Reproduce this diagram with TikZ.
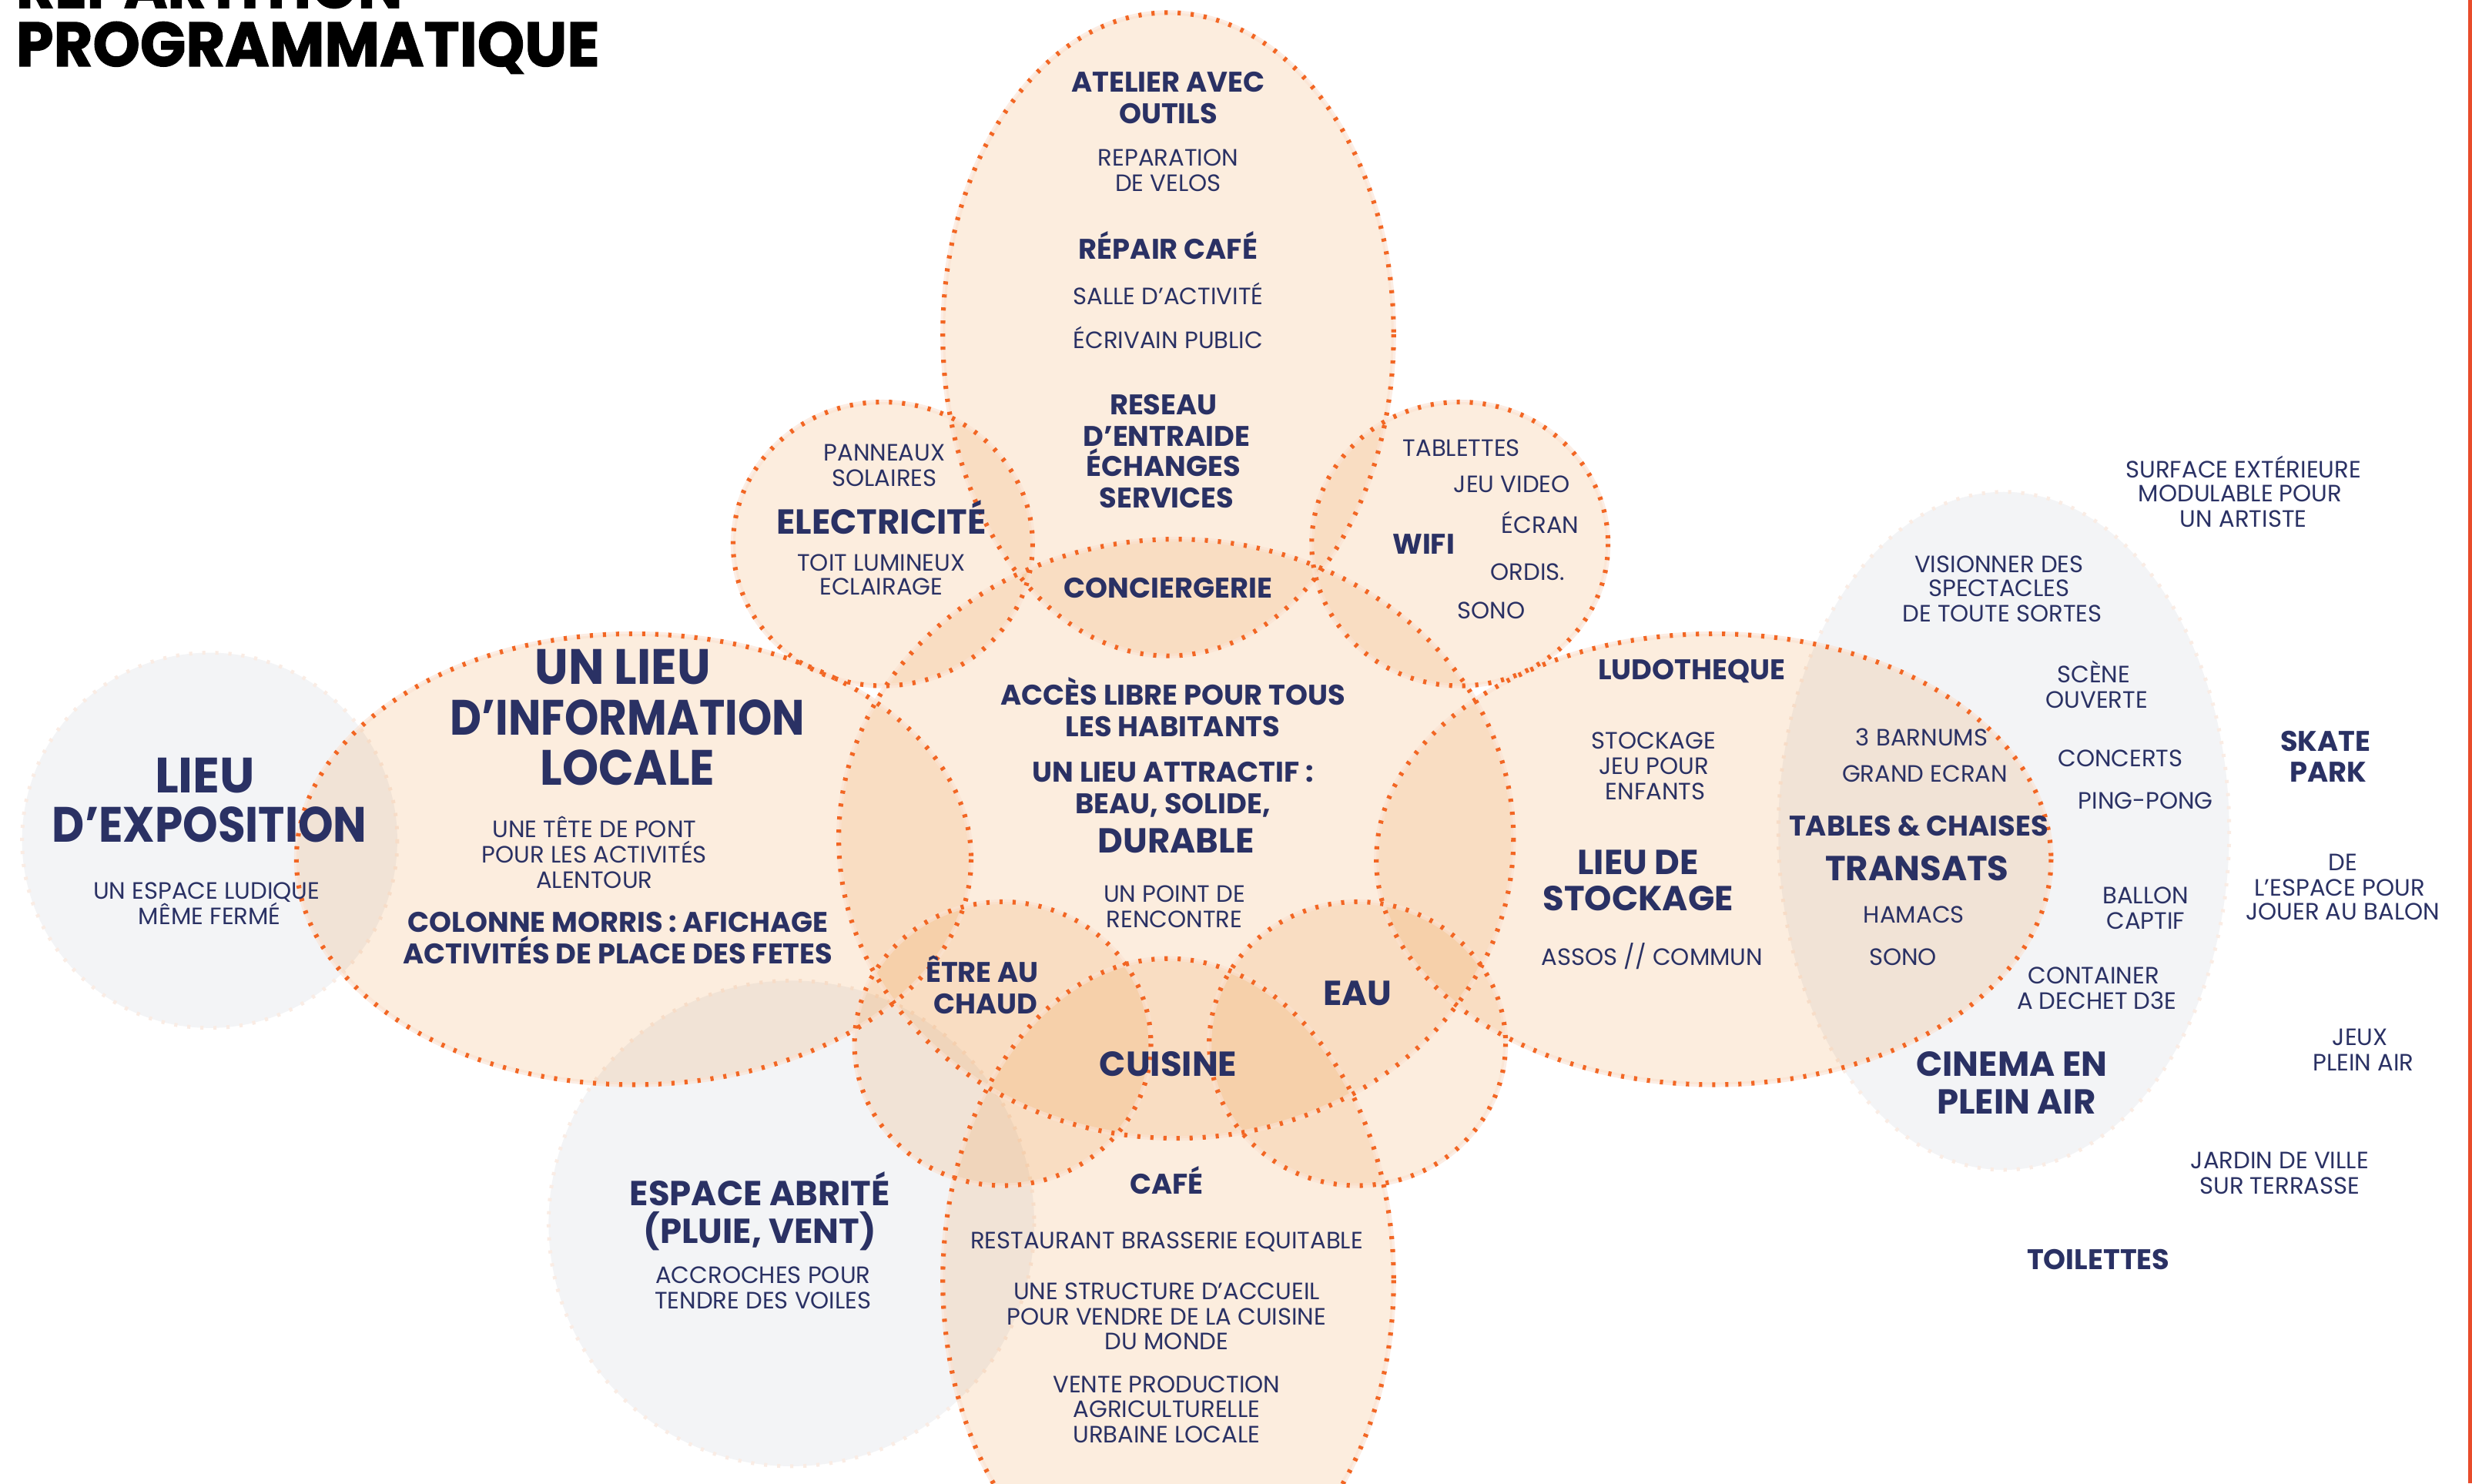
\documentclass[tikz,border=0pt]{standalone}
\usepackage{fontspec}
\setmainfont{Poppins}
\definecolor{navy}{RGB}{42,49,100}
\definecolor{dotor}{RGB}{242,102,35}
\definecolor{peachbase}{RGB}{235,135,35}
\definecolor{halo}{RGB}{251,226,210}
\definecolor{greyfill}{RGB}{243,244,246}
\definecolor{greyedge}{RGB}{250,236,228}
\definecolor{redline}{RGB}{232,76,43}
\newcommand\capbox[1]{\raisebox{0pt}[\fontcharht\font`P][0pt]{#1}}
\newcommand\T[5]{\node[#1] (#2) at (#3,#4) {#5};}
\newcommand\TC[5]{\node[bC] (#1) at (#2,#3) {\scalebox{#4}[1]{#5}};}
\tikzset{
  txt/.style={text=navy, inner sep=0pt, anchor=base},
  rg/.style={txt, font=\fontsize{15}{15}\selectfont, yshift=-5.25pt},
  bA/.style={txt, font=\bfseries\fontsize{18}{18}\selectfont, yshift=-6.25pt},
  bB/.style={txt, font=\bfseries\fontsize{22}{22}\selectfont, yshift=-7.75pt},
  bC/.style={txt, font=\bfseries\fontsize{31.5}{31.5}\selectfont, yshift=-11pt},
  peach/.style={fill=peachbase, fill opacity=0.15},
  haloline/.style={draw=halo, line width=3pt},
  dotline/.style={draw=dotor, line width=3pt, dash pattern=on 2pt off 6.3pt},
  greyline/.style={draw=greyedge, line width=2.4pt, dash pattern=on 2pt off 6.3pt},
}
\begin{document}
\begin{tikzpicture}[x=1pt,y=-1pt]
\useasboundingbox (0,0) rectangle (1568,940.8);
\clip (0,0) rectangle (1568,940.8);
\fill[white] (0,0) rectangle (1568,940.8);
% grey zones
\fill[greyfill] (133,533) circle [radius=119];
\fill[greyfill] (502,776) circle [radius=154];
\fill[greyfill] (1271,527) ellipse [x radius=143, y radius=215];
\draw[greyline] (133,533) circle [radius=119];
\draw[greyline] (502,776) circle [radius=154];
\draw[greyline] (1271,527) ellipse [x radius=143, y radius=215];
% peach zones
\foreach \cx/\cy/\rx/\ry in {741/212/143/204, 746/532/214/190, 560/345/95/90, 926/345/94/90, 402/545/214/143, 1087/545/214/143, 636/662/94/90, 861/662/94/90, 741/812/143/204}{
  \fill[peach] (\cx,\cy) ellipse [x radius=\rx, y radius=\ry];
}
\foreach \cx/\cy/\rx/\ry in {741/212/143/204, 746/532/214/190, 560/345/95/90, 926/345/94/90, 402/545/214/143, 1087/545/214/143, 636/662/94/90, 861/662/94/90, 741/812/143/204}{
  \draw[haloline, opacity=0.6] (\cx,\cy) ellipse [x radius=\rx, y radius=\ry];
}
\foreach \cx/\cy/\rx/\ry in {741/212/143/204, 746/532/214/190, 560/345/95/90, 926/345/94/90, 402/545/214/143, 1087/545/214/143, 636/662/94/90, 861/662/94/90, 741/812/143/204}{
  \draw[dotline] (\cx,\cy) ellipse [x radius=\rx, y radius=\ry];
}
% title
\node[anchor=base west, inner sep=0pt, font=\bfseries] (title1) at (10,5) {\addfontfeatures{FakeBold=1.5}\resizebox{245pt}{28pt}{\capbox{RÉPARTITION}}};
\node[anchor=base west, inner sep=0pt, font=\bfseries] (title2) at (10,42) {\addfontfeatures{FakeBold=1.5}\resizebox{370pt}{28pt}{\capbox{PROGRAMMATIQUE}}};
% top ellipse
\T{bA}{a1}{741}{52}{ATELIER AVEC}
\T{bA}{a2}{741}{72}{OUTILS}
\T{rg}{a3}{741}{100}{REPARATION}
\T{rg}{a4}{741}{116}{DE VELOS}
\T{bA}{a5}{741}{158}{RÉPAIR CAFÉ}
\T{rg}{a6}{741}{188}{SALLE D’ACTIVITÉ}
\T{rg}{a7}{741}{216}{ÉCRIVAIN PUBLIC}
\T{bA}{a8}{738}{257}{RESEAU}
\T{bA}{a9}{740}{277}{D’ENTRAIDE}
\T{bA}{a10}{738}{296}{ÉCHANGES}
\T{bA}{a11}{740}{316}{SERVICES}
\T{bA}{a12}{741}{373}{CONCIERGERIE}
% electricite
\T{rg}{e1}{561}{287}{PANNEAUX}
\T{rg}{e2}{561}{303}{SOLAIRES}
\T{bB}{e3}{559}{331}{ELECTRICITÉ}
\T{rg}{e4}{559}{357}{TOIT LUMINEUX}
\T{rg}{e5}{559}{372}{ECLAIRAGE}
% wifi
\T{rg}{w1}{927}{284}{TABLETTES}
\T{rg}{w2}{959}{307}{JEU VIDEO}
\T{rg}{w3}{977}{333}{ÉCRAN}
\T{bA}{w4}{903}{345}{WIFI}
\T{rg}{w5}{969}{363}{ORDIS.}
\T{rg}{w6}{946}{387}{SONO}
% centre
\T{bA}{c1}{744}{441}{ACCÈS LIBRE POUR TOUS}
\T{bA}{c2}{744}{461}{LES HABITANTS}
\T{bA}{c3}{744}{490}{UN LIEU ATTRACTIF :}
\T{bA}{c4}{744}{510}{BEAU, SOLIDE,}
\T{bB}{c5}{746}{533}{DURABLE}
\T{rg}{c6}{745}{567}{UN POINT DE}
\T{rg}{c7}{745}{583}{RENCONTRE}
% info locale
\TC{i1}{395}{423}{0.96}{UN LIEU}
\TC{i2}{398}{455}{0.875}{D’INFORMATION}
\TC{i3}{398}{487}{0.93}{LOCALE}
\T{rg}{i4}{377}{526}{UNE TÊTE DE PONT}
\T{rg}{i5}{377}{542}{POUR LES ACTIVITÉS}
\T{rg}{i6}{377}{558}{ALENTOUR}
\T{bA}{i7}{392}{585}{COLONNE MORRIS : AFICHAGE}
\T{bA}{i8}{392}{605}{ACTIVITÉS DE PLACE DES FETES}
% exposition
\TC{x1}{130}{492}{1}{LIEU}
\TC{x2}{133}{523}{0.9}{D’EXPOSITION}
\T{rg}{x3}{131}{565}{UN ESPACE LUDIQUE}
\T{rg}{x4}{133}{581}{MÊME FERMÉ}
% chaud, eau, cuisine
\T{bA}{h1}{623}{617}{ÊTRE AU}
\T{bA}{h2}{625}{637}{CHAUD}
\T{bB}{h3}{861}{630}{EAU}
\T{bB}{h4}{741}{675}{CUISINE}
% cafe
\T{bA}{f1}{740}{751}{CAFÉ}
\T{rg}{f2}{740}{787}{RESTAURANT BRASSERIE EQUITABLE}
\T{rg}{f3}{740}{819}{UNE STRUCTURE D’ACCUEIL}
\T{rg}{f4}{740}{835}{POUR VENDRE DE LA CUISINE}
\T{rg}{f5}{740}{851}{DU MONDE}
\T{rg}{f6}{740}{878}{VENTE PRODUCTION}
\T{rg}{f7}{740}{894}{AGRICULTURELLE}
\T{rg}{f8}{740}{910}{URBAINE LOCALE}
% espace abrite
\T{bB}{s1}{482}{757}{ESPACE ABRITÉ}
\T{bB}{s2}{482}{781}{(PLUIE, VENT)}
\T{rg}{s3}{484}{809}{ACCROCHES POUR}
\T{rg}{s4}{484}{825}{TENDRE DES VOILES}
% ludotheque
\T{bA}{l1}{1073}{425}{LUDOTHEQUE}
\T{rg}{l2}{1049}{470}{STOCKAGE}
\T{rg}{l3}{1049}{486}{JEU POUR}
\T{rg}{l4}{1050}{502}{ENFANTS}
\T{bB}{l5}{1039}{547}{LIEU DE}
\T{bB}{l6}{1039}{570}{STOCKAGE}
\T{rg}{l7}{1048}{607}{ASSOS // COMMUN}
\T{rg}{l8}{1219}{468}{3 BARNUMS}
\T{rg}{l9}{1221}{491}{GRAND ECRAN}
\T{bA}{l10}{1217}{524}{TABLES \& CHAISES}
\T{bB}{l11}{1216}{551}{TRANSATS}
\T{rg}{l12}{1214}{580}{HAMACS}
\T{rg}{l13}{1207}{607}{SONO}
% right
\T{rg}{r1}{1423}{298}{SURFACE EXTÉRIEURE}
\T{rg}{r2}{1421}{313}{MODULABLE POUR}
\T{rg}{r3}{1423}{329}{UN ARTISTE}
\T{rg}{r4}{1268}{358}{VISIONNER DES}
\T{rg}{r5}{1268}{373}{SPECTACLES}
\T{rg}{r6}{1270}{389}{DE TOUTE SORTES}
\T{rg}{r7}{1328}{428}{SCÈNE}
\T{rg}{r8}{1330}{444}{OUVERTE}
\T{rg}{r9}{1345}{481}{CONCERTS}
\T{rg}{r10}{1361}{508}{PING-PONG}
\T{rg}{r11}{1361}{568}{BALLON}
\T{rg}{r12}{1361}{584}{CAPTIF}
\T{rg}{r13}{1328}{619}{CONTAINER}
\T{rg}{r14}{1330}{635}{A DECHET D3E}
\T{bB}{r15}{1276}{675}{CINEMA EN}
\T{bB}{r16}{1279}{699}{PLEIN AIR}
\T{bA}{r17}{1475}{470}{SKATE}
\T{bA}{r18}{1477}{490}{PARK}
\T{rg}{r19}{1486}{547}{DE}
\T{rg}{r20}{1484}{563}{L’ESPACE POUR}
\T{rg}{r21}{1486}{578}{JOUER AU BALON}
\T{rg}{r22}{1497}{658}{JEUX}
\T{rg}{r23}{1499}{674}{PLEIN AIR}
\T{rg}{r24}{1446}{736}{JARDIN DE VILLE}
\T{rg}{r25}{1446}{752}{SUR TERRASSE}
\T{bA}{r26}{1331}{799}{TOILETTES}
% right edge line
\fill[redline] (1565.6,0) rectangle (1568,940.8);
\end{tikzpicture}
\end{document}
